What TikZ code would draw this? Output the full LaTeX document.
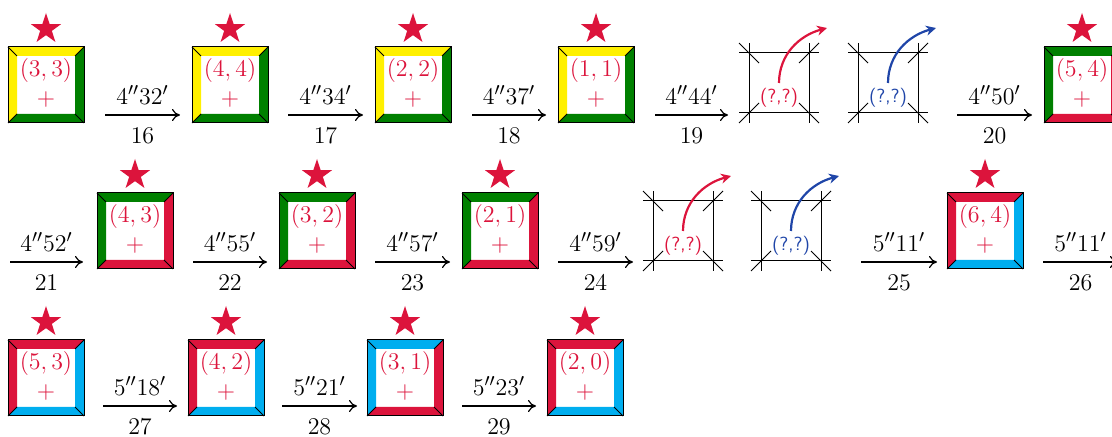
\documentclass[tikz,border=0pt]{standalone}
\usetikzlibrary{shapes.geometric,arrows.meta}
\definecolor{cr}{HTML}{DC143C}
\definecolor{yl}{HTML}{FFF000}
\definecolor{gr}{HTML}{008000}
\definecolor{cy}{HTML}{00AEEF}
\definecolor{bl}{HTML}{1F45A8}
\tikzset{
  sqbox/.style={draw=none,minimum size=38pt,inner sep=0pt},
  starnode/.style={star,star points=5,star point ratio=2.6,fill=cr,draw=none,minimum size=16pt,inner sep=0pt},
  lab/.style={text=cr,inner sep=0pt,font=\fontsize{13}{15}\selectfont},
  qlab/.style={inner sep=0pt,font=\fontsize{9.5}{11}\selectfont\sffamily},
  trans/.style={line width=0.6pt,-{To[length=4pt,width=6pt]}},
  tlab/.style={inner sep=0pt,font=\fontsize{13}{15}\selectfont},
  curvarr/.style={line width=1.1pt,-{Stealth[length=5pt,width=5pt]}},
}
\newcommand\frameSq[6]{%
\begin{scope}[shift={(#2,#3)}]
\fill[#4] (0,0) -- (76,0) -- (67,9) -- (9,9) -- (9,67) -- (0,76) -- cycle;
\fill[#5] (76,0) -- (76,76) -- (0,76) -- (9,67) -- (67,67) -- (67,9) -- cycle;
\draw[line width=0.5pt] (0,0) rectangle (76,76);
\draw[line width=0.5pt] (0,0) -- (9,9) (76,0) -- (67,9) (0,76) -- (9,67) (76,76) -- (67,67);
\node[sqbox] (#1) at (38,38) {};
\node[starnode] (#1-star) at (38,-18) {};
\node[lab] (#1-lab) at (38,24) {$(#6)$};
\node[lab] (#1-plus) at (38,53) {$+$};
\end{scope}}
\newcommand\qSq[4]{%
\begin{scope}[shift={(#2,#3)}]
\node[sqbox,minimum size=30pt] (#1) at (30,30) {};
\draw[line width=0.5pt] (-10,0) -- (70,0) (-10,60) -- (70,60) (0,-10) -- (0,70) (60,-10) -- (60,70);
\draw[line width=0.5pt] (-10,-10) -- (10,10) (70,-10) -- (50,10) (-10,70) -- (10,50) (70,70) -- (50,50);
\node[qlab,text=#4] (#1-lab) at (30,45) {(?,?)};
\coordinate (#1-a) at (30,30);
\coordinate (#1-b) at (78,-25);
\draw[curvarr,#4] (#1-a) to[out=90,in=195] (#1-b);
\end{scope}}
\newcommand\arr[6]{%
\coordinate (#1-s) at (#2,#4);
\coordinate (#1-e) at (#3,#4);
\draw[trans] (#1-s) -- node[tlab,above=5pt]{$#5$} node[tlab,below=6pt]{$#6$} (#1-e);
}
\begin{document}
\begin{tikzpicture}[x=0.5pt,y=-0.5pt]
\useasboundingbox (0,0) rectangle (1112,437);
% row 1
\frameSq{s33}{8}{47}{yl}{gr}{3,3}
\arr{a16}{105}{180}{115}{4''32'}{16}
\frameSq{s44}{192}{47}{yl}{gr}{4,4}
\arr{a17}{288}{363}{115}{4''34'}{17}
\frameSq{s22}{375}{47}{yl}{gr}{2,2}
\arr{a18}{472}{546}{115}{4''37'}{18}
\frameSq{s11}{558}{47}{yl}{gr}{1,1}
\arr{a19}{655}{728}{115}{4''44'}{19}
\qSq{q1}{749}{53}{cr}
\qSq{q2}{858}{53}{bl}
\arr{a20}{957}{1032}{115}{4''50'}{20}
\frameSq{s54}{1044}{47}{gr}{cr}{5,4}
% row 2
\arr{a21}{10}{83}{262}{4''52'}{21}
\frameSq{s43}{97}{193}{gr}{cr}{4,3}
\arr{a22}{193}{267}{262}{4''55'}{22}
\frameSq{s32}{279}{193}{gr}{cr}{3,2}
\arr{a23}{375}{450}{262}{4''57'}{23}
\frameSq{s21}{462}{193}{gr}{cr}{2,1}
\arr{a24}{558}{633}{262}{4''59'}{24}
\qSq{q3}{653}{201}{cr}
\qSq{q4}{761}{201}{bl}
\arr{a25}{861}{937}{262}{5''11'}{25}
\frameSq{s64}{947}{193}{cr}{cy}{6,4}
\arr{a26}{1043}{1118}{262}{5''11'}{26}
% row 3
\frameSq{s53}{8}{340}{cr}{cy}{5,3}
\arr{a27}{103}{177}{406}{5''18'}{27}
\frameSq{s42}{188}{340}{cr}{cy}{4,2}
\arr{a28}{282}{357}{406}{5''21'}{28}
\frameSq{s31}{367}{340}{cy}{cr}{3,1}
\arr{a29}{462}{536}{406}{5''23'}{29}
\frameSq{s20}{547}{340}{cr}{cy}{2,0}
\end{tikzpicture}
\end{document}
